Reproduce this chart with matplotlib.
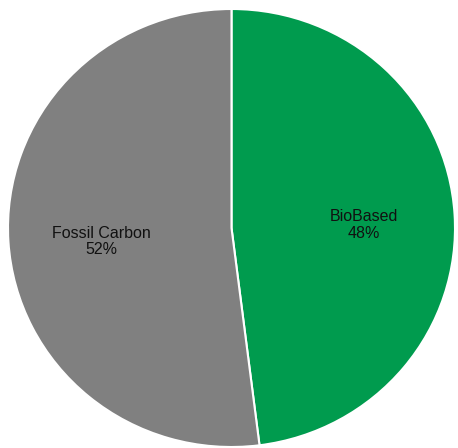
import matplotlib.pyplot as plt

# share of carbon source
labels = ['BioBased', 'Fossil Carbon']
shares = [48, 52]
colors = ['#009B4E', '#808080']

CX, CY = 231.5, 228.0   # pie centre in pixels
RX, RY = 223.5, 219.0   # pie radii in pixels
W, H = 458, 448

fig = plt.figure(figsize=(W / 100, H / 100), dpi=100)
ax = fig.add_axes([0, 0, 1, 1])

texts = ['%s\n%d%%' % (lab, v) for lab, v in zip(labels, shares)]
wedges, txts = ax.pie(shares, labels=texts, colors=colors, startangle=90,
                      counterclock=False, labeldistance=0.59,
                      wedgeprops={'edgecolor': 'white', 'linewidth': 1.5},
                      textprops={'fontsize': 11.5, 'family': 'Liberation Sans',
                                 'color': '#111111', 'ha': 'center',
                                 'va': 'center', 'linespacing': 1.1})
for t in txts:
    t.set_horizontalalignment('center')
    t.set_multialignment('center')
    x, y = t.get_position()
    t.set_position((x + 0.005, y - 0.023))

ax.set_aspect('auto')
ax.set_xlim(-CX / RX, (W - CX) / RX)
ax.set_ylim(-(H - CY) / RY, CY / RY)
ax.axis('off')

fig.savefig('out.png', dpi=100)
